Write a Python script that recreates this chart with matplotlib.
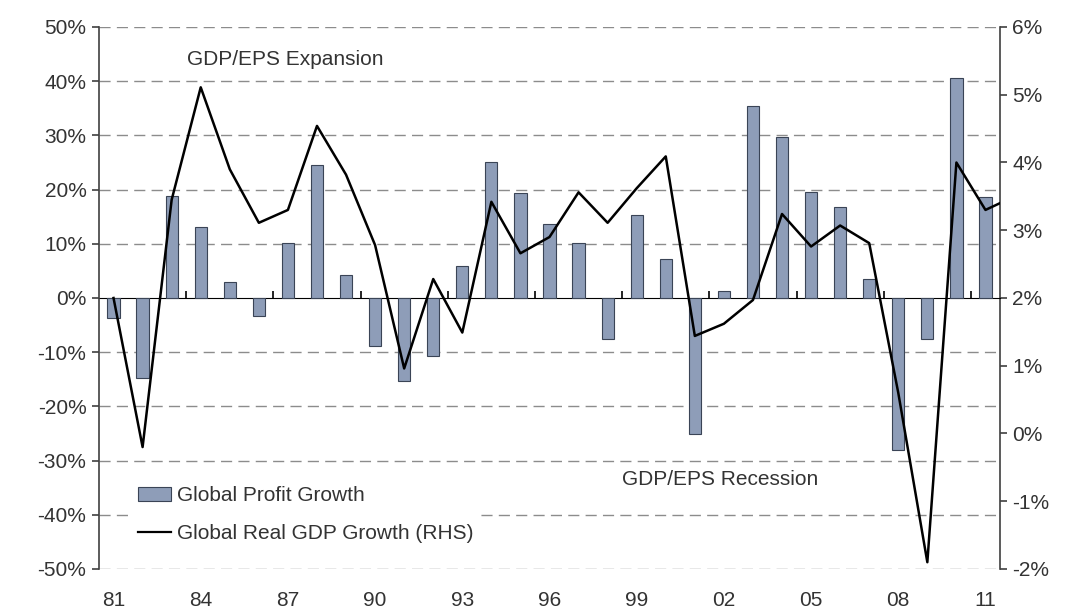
import matplotlib
matplotlib.use("Agg")
import matplotlib.pyplot as plt
import numpy as np

plt.rcParams['font.family'] = ['Liberation Sans', 'DejaVu Sans']
plt.rcParams['axes.unicode_minus'] = False

years = list(range(1981, 2012))
profit_growth = [-3.6, -14.7, 18.8, 13.1, 2.9, -3.3, 10.1, 24.5, 4.3, -8.8,
                 -15.3, -10.7, 5.9, 25.1, 19.4, 13.6, 10.1, -7.6, 15.3, 7.2,
                 -25.1, 1.3, 35.5, 29.7, 19.6, 16.8, 3.5, -28.0, -7.6, 40.6,
                 18.6]
gdp_years = list(range(1981, 2013))
gdp_growth = [2.0, -0.2, 3.45, 5.11, 3.9, 3.11, 3.3, 4.54, 3.82, 2.78,
              0.96, 2.28, 1.49, 3.42, 2.66, 2.9, 3.56, 3.11, 3.62, 4.09,
              1.44, 1.62, 1.97, 3.24, 2.76, 3.07, 2.81, 0.6, -1.9, 4.0,
              3.3, 3.5]
tick_years = list(range(1981, 2012, 3))
tick_labels = [f"{y % 100:02d}" for y in tick_years]
left_ticks = list(range(-50, 51, 10))
right_ticks = list(range(-2, 7, 1))

bar_color = '#8e9db8'
edge_color = '#3a4456'
txt_color = '#333333'
spine_color = '#404040'

fig = plt.figure(figsize=(10.72, 6.10), dpi=100)
ax = fig.add_axes([99/1072, 1 - 569/610, 901/1072, 542/610])
ax2 = ax.twinx()

ax.set_zorder(2)
ax.patch.set_visible(False)
ax2.set_zorder(1)

# gridlines
for v in left_ticks:
    if v != 0:
        ax.axhline(v, color='#8c8c8c', lw=1.0, dashes=(8, 4.5), zorder=0)

bars = ax.bar(years, profit_growth, width=0.42, color=bar_color,
              edgecolor=edge_color, linewidth=0.8, zorder=2,
              label='Global Profit Growth')
line, = ax.plot([], [], color='black', lw=1.6, label='Global Real GDP Growth (RHS)')

ax.set_xlim(1980.5, 2011.5)
ax.set_ylim(-50, 50)
ax2.set_ylim(-2, 6)

# GDP line plotted against the right-hand scale, drawn above the bars
ax.plot(gdp_years, [(g - 2) / 0.08 for g in gdp_growth], color='black', lw=1.8,
        zorder=3, clip_on=True)

ax.set_yticks(left_ticks)
ax.set_yticklabels([f"{v}%" for v in left_ticks])
ax2.set_yticks(right_ticks)
ax2.set_yticklabels([f"{v}%" for v in right_ticks])

ax.set_xticks(tick_years)
ax.set_xticklabels(tick_labels)
ax.tick_params(axis='x', length=0, pad=16, labelsize=15, colors=txt_color)
ax.tick_params(axis='y', direction='out', length=5, width=1.2, pad=4,
               labelsize=15, colors=spine_color, labelcolor=txt_color)
ax2.tick_params(axis='y', direction='out', length=5, width=1.2, pad=4,
                labelsize=15, colors=spine_color, labelcolor=txt_color)

for a in (ax, ax2):
    a.spines['top'].set_visible(False)
    a.spines['bottom'].set_visible(False)
    a.spines['left'].set_color(spine_color)
    a.spines['right'].set_color(spine_color)
    a.spines['left'].set_linewidth(1.2)
    a.spines['right'].set_linewidth(1.2)
ax.spines['right'].set_visible(False)
ax2.spines['left'].set_visible(False)

# zero axis with boundary ticks
secax = ax.secondary_xaxis(0.5)
secax.set_xticks([y - 0.5 for y in tick_years[1:]])
secax.set_xticklabels([])
secax.tick_params(axis='x', direction='out', length=5, width=1.2, colors='black')
secax.spines['bottom'].set_color('black')
secax.spines['bottom'].set_linewidth(1.3)

ax.text(0.098, 0.94, 'GDP/EPS Expansion', transform=ax.transAxes,
        fontsize=15, color=txt_color, ha='left', va='center')
ax.text(0.58, 0.165, 'GDP/EPS Recession', transform=ax.transAxes,
        fontsize=15, color=txt_color, ha='left', va='center')

leg = ax.legend(handles=[bars, line], loc='center left',
                bbox_to_anchor=(0.036, 0.1), frameon=True, fontsize=15,
                handlelength=1.6, handleheight=0.63, handletextpad=0.3,
                labelspacing=0.9, borderpad=0.3, borderaxespad=0)
leg.get_frame().set_edgecolor('none')
leg.get_frame().set_facecolor('white')
leg.get_frame().set_alpha(1)
for t in leg.get_texts():
    t.set_color(txt_color)
leg.set_zorder(5)

fig.savefig('out.png', dpi=100)
